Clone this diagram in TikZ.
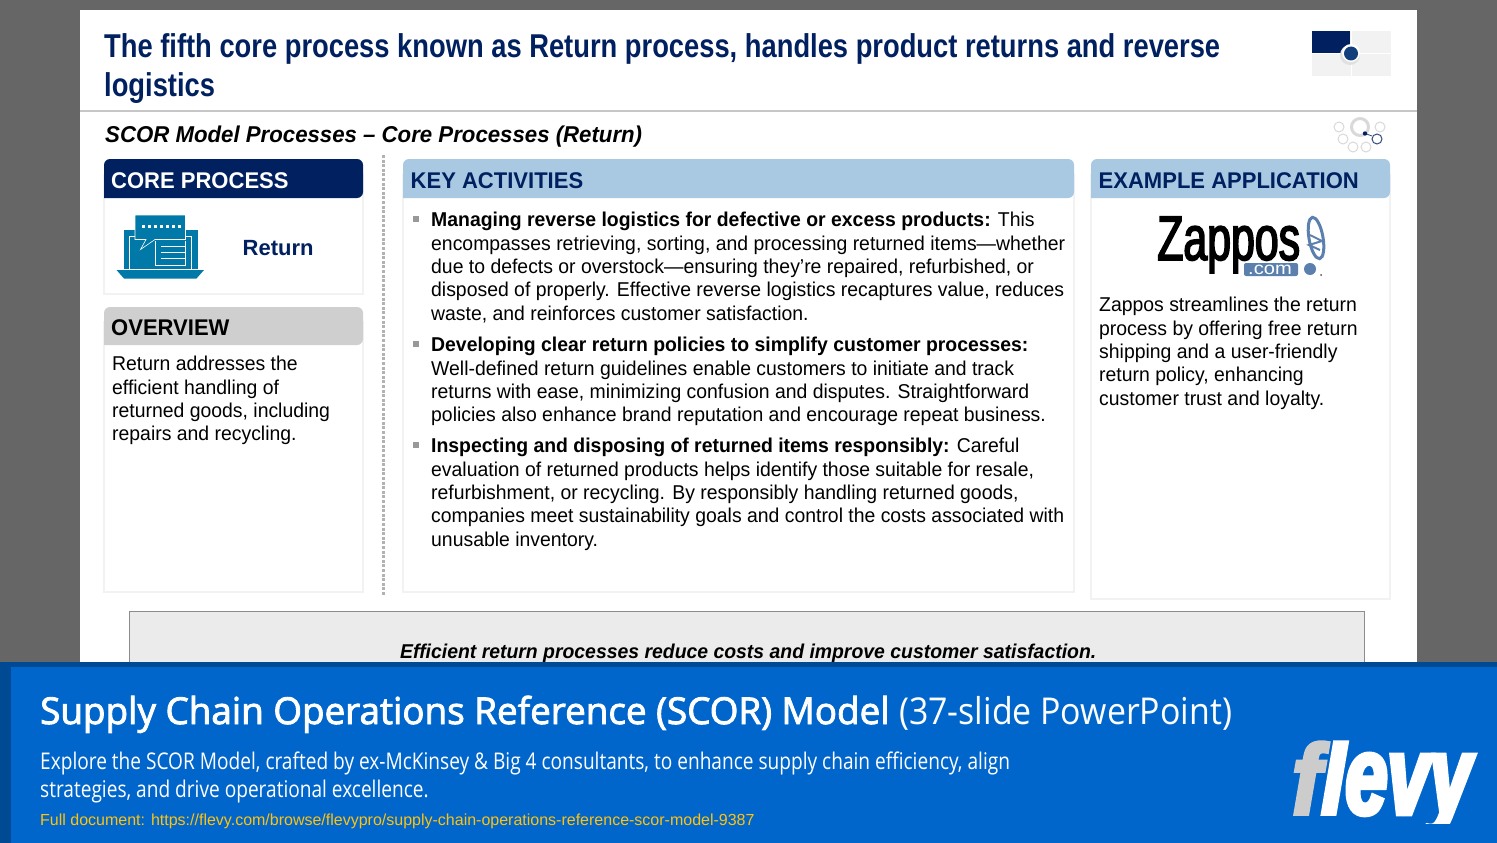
\documentclass[tikz,border=0pt]{standalone}
\usepackage{fontspec}
\setmainfont[FakeStretch=0.97]{Liberation Sans}
\newfontfamily\plainfont{Liberation Sans}
\newfontfamily\narrowfont[FakeStretch=0.828]{Liberation Sans}
\newfontfamily\bannerfont[FakeBold=2.4,FakeStretch=0.995]{Open Sans}
\newfontfamily\bannerlight[FakeStretch=0.915]{Open Sans}
\newfontfamily\banneslim[FakeStretch=0.83]{Open Sans}
\newfontfamily\zapposfont[FakeStretch=0.68,FakeBold=2.5]{Liberation Sans}
\newfontfamily\comfont[FakeStretch=1.15]{Liberation Sans}
\newfontfamily\flevyfont[FakeStretch=0.88,FakeBold=4]{Liberation Sans}
\newfontfamily\flevywide[FakeStretch=0.675,FakeBold=4]{Liberation Sans}
\definecolor{navy}{HTML}{002060}
\definecolor{dotblue}{HTML}{123F7C}
\definecolor{skyhead}{HTML}{A9C9E3}
\definecolor{greyhead}{HTML}{CFCFCF}
\definecolor{teal}{HTML}{0078A8}
\definecolor{bannerblue}{HTML}{0066CC}
\definecolor{bannerdark}{HTML}{004A94}
\definecolor{linkgold}{HTML}{FFC20E}
\definecolor{zapblue}{HTML}{5B80AE}
\newcommand{\px}[2]{\fontsize{#1}{#2}\selectfont}
\tikzset{
  txt/.style={anchor=base west,inner sep=0pt},
  para/.style={anchor=north west,inner sep=0pt,align=left,font=\px{20}{23.35}},
  headtxt/.style={txt,font=\px{22.7}{26}\bfseries},
  card/.style={fill=white,draw=black!5,line width=2.5pt},
  bulletmark/.style={fill=black!40,draw=none,minimum size=6pt,inner sep=0pt},
  ring/.style={draw=black!15,line width=1pt,fill=none}
}
\begin{document}
\begin{tikzpicture}[x=1pt,y=-1pt]
\useasboundingbox (0,0) rectangle (1497,843);

% page
\fill[black!60] (0,0) rectangle (1497,843);
\fill[white] (80,10) rectangle (1417,670);
\draw[black!22,line width=1.5pt] (80,111)--(1417,111);

% title
\node[para,font=\narrowfont\px{33}{39.2}\bfseries,text=navy] (title) at (104,33)
  {The fifth core process known as Return process, handles product returns and reverse\\logistics};
\node[txt,font=\px{22.9}{26}\bfseries\itshape] (subtitle) at (105,142) {SCOR Model Processes -- Core Processes (Return)};

% top right marks
\fill[black!5] (1312,31) rectangle (1351,53.5);
\fill[black!5] (1352,31) rectangle (1391,53.5);
\fill[black!5] (1312,54.5) rectangle (1351,76);
\fill[black!5] (1352,54.5) rectangle (1391,76);
\fill[navy] (1312,31) rectangle (1350,53);
\fill[black!12] (1350,55) circle (10);
\fill[white] (1351,53) circle (9);
\fill[dotblue] (1351,53.5) circle (7);

\foreach \cx/\cy in {1339/127,1380/127,1343/139,1353/147,1366/147}
  \draw[ring] (\cx,\cy) circle (5);
\draw[black!15,line width=3pt] (1360,127) circle (8.5);
\draw[navy!80,line width=1pt] (1377,139) circle (5);
\draw[navy!80,line width=.8pt] (1365,133.5)--(1372,136);
\fill[navy] (1365,133.5) circle (2.2);

% core process
\draw[card] (104,175) rectangle (363,294);
\fill[navy,rounded corners=6pt] (104,198)--(104,159)--(363,159)--(363,198)[sharp corners]--cycle;
\node[headtxt,text=white] (corehead) at (111,188) {CORE PROCESS};
\node[txt,font=\plainfont\px{22}{26}\bfseries,text=navy] (corename) at (242.5,255.5) {Return};

% laptop icon
\fill[teal] (116.5,270)--(204,270)--(196.5,278.5)--(124,278.5)--cycle;
\fill[teal] (123.5,230) rectangle (197.5,268.5);
\draw[white,line width=1pt] (129.5,268.5)--(129.5,236)--(191.5,236)--(191.5,268.5);
\fill[teal,draw=white,line width=.6pt] (135,215)--(185.5,215)--(185.5,239.5)--(155,239.5)--(140.5,249.5)--(146,239.5)--(135,239.5)--cycle;
\foreach \dx in {142,148,154,160,166,172,178}
  \fill[white] (\dx,224.5) rectangle ++(3,3);
\draw[white,line width=1pt] (155,241)--(155,265)--(185,265)--(185,241);
\foreach \ly in {246,252,258}
  \draw[white,line width=1pt] (161,\ly)--(185,\ly);

% overview
\draw[card] (104,322) rectangle (363,592);
\fill[greyhead,rounded corners=6pt] (104,345)--(104,307)--(363,307)--(363,345)[sharp corners]--cycle;
\node[headtxt] (overhead) at (111,335) {OVERVIEW};
\node[para] (overtext) at (112,356)
  {Return addresses the\\efficient handling of\\returned goods, including\\repairs and recycling.};

% divider
\draw[black!30,line width=3pt,dash pattern=on 3pt off 1.6pt] (383,155)--(383,596);

% key activities
\draw[card] (403,175) rectangle (1074,592);
\fill[skyhead,rounded corners=6pt] (403,198)--(403,159)--(1074,159)--(1074,198)[sharp corners]--cycle;
\node[headtxt,text=navy] (keyhead) at (410.5,188) {KEY ACTIVITIES};
\node[bulletmark] (mark1) at (416,219) {};
\node[bulletmark] (mark2) at (416,344) {};
\node[bulletmark] (mark3) at (416,445) {};
\node[para] (act1) at (431,212)
  {\textbf{Managing reverse logistics for defective or excess products:} This\\
   encompasses retrieving, sorting, and processing returned items---whether\\
   due to defects or overstock---ensuring they’re repaired, refurbished, or\\
   disposed of properly. Effective reverse logistics recaptures value, reduces\\
   waste, and reinforces customer satisfaction.};
\node[para] (act2) at (431,337)
  {\textbf{Developing clear return policies to simplify customer processes:}\\
   Well-defined return guidelines enable customers to initiate and track\\
   returns with ease, minimizing confusion and disputes. Straightforward\\
   policies also enhance brand reputation and encourage repeat business.};
\node[para] (act3) at (431,438)
  {\textbf{Inspecting and disposing of returned items responsibly:} Careful\\
   evaluation of returned products helps identify those suitable for resale,\\
   refurbishment, or recycling. By responsibly handling returned goods,\\
   companies meet sustainability goals and control the costs associated with\\
   unusable inventory.};

% example
\draw[card] (1091,175) rectangle (1390,599);
\fill[skyhead,rounded corners=6pt] (1091,198)--(1091,159)--(1390,159)--(1390,198)[sharp corners]--cycle;
\node[headtxt,text=navy] (examplehead) at (1098.5,188) {EXAMPLE APPLICATION};
\node[txt,font=\zapposfont\px{63}{63}] (zappos) at (1157,260) {Zappos};
\fill[zapblue,rounded corners=2pt] (1244,263) rectangle (1298,276);
\node[txt,font=\comfont\px{17.5}{18},text=white] (zapcom) at (1248,274) {.com};
\fill[zapblue] (1310,269) circle (6);
\filldraw[fill=white,draw=zapblue,line width=3pt,rotate around={10:(1316,238)}] (1316,238) ellipse (7 and 21);
\draw[zapblue,line width=2pt] (1310,235)--(1322,241)--(1309,245)--(1320,250);
\fill[black!70] (1321,275) circle (1);
\node[para] (exampletext) at (1099,297)
  {Zappos streamlines the return\\process by offering free return\\shipping and a user-friendly\\return policy, enhancing\\customer trust and loyalty.};

% takeaway
\filldraw[fill=black!8,draw=black!45,line width=1pt] (129,611) rectangle (1364,680);
\node[txt,font=\px{20}{24}\bfseries\itshape] (takeaway) at (400,658) {Efficient return processes reduce costs and improve customer satisfaction.};

% banner
\fill[bannerdark] (0,662) rectangle (1497,843);
\fill[bannerblue] (11,667) rectangle (1497,843);
\node[txt,font=\bannerfont\px{37}{40},text=white] (bannertitle) at (40,724)
  {Supply Chain Operations Reference (SCOR) Model {\bannerlight (37-slide PowerPoint)}};
\node[para,font=\banneslim\px{23}{28},text=white] (bannertext) at (40,752)
  {Explore the SCOR Model, crafted by ex-McKinsey \& Big 4 consultants, to enhance supply chain efficiency, align\\strategies, and drive operational excellence.};
\node[txt,font=\plainfont\px{16}{20},text=linkgold] (bannerlink) at (40,825) {Full document: https://flevy.com/browse/flevypro/supply-chain-operations-reference-scor-model-9387};
% logo, descender cut short
\begin{scope}
\clip (1280,730) rectangle (1497,823.5);
\node[txt,font=\bfseries\itshape,text=white] (flevylogo) at (1292,814)
  {\flevyfont\px{99}{99}\bfseries\itshape\textcolor{black!20}{f}l\flevywide\px{112}{112}\bfseries\itshape evy};
\end{scope}
\end{tikzpicture}
\end{document}
